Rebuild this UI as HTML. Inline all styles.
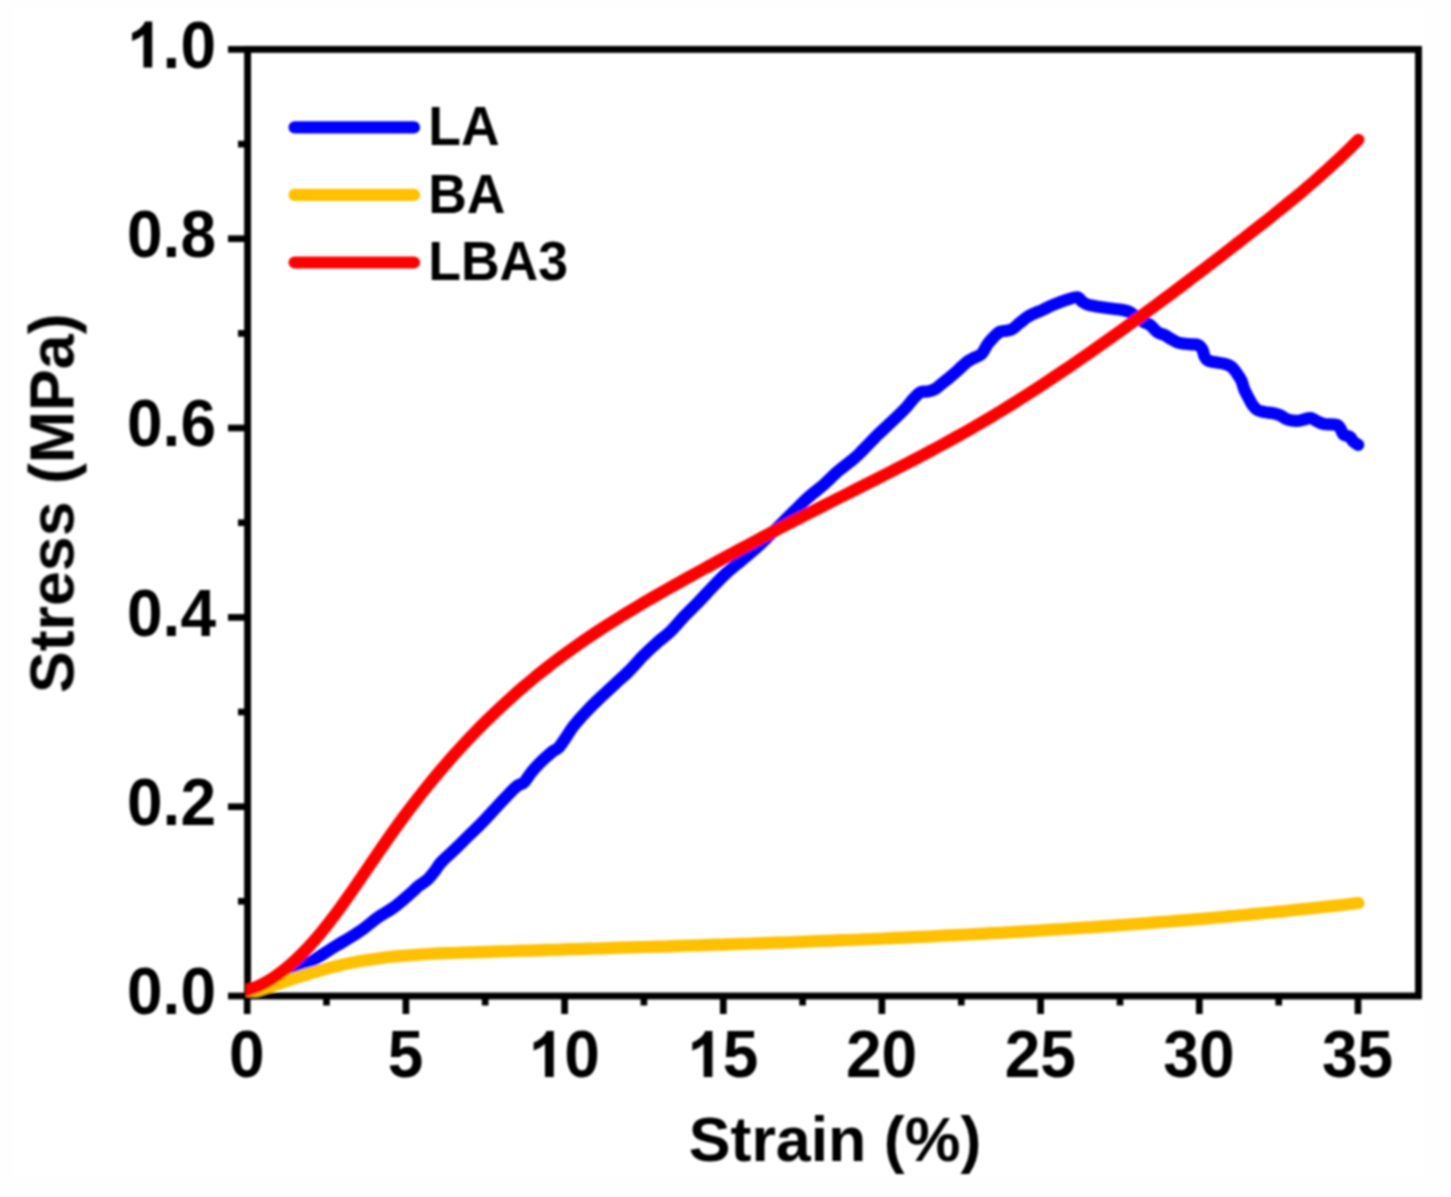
<!DOCTYPE html>
<html lang="en"><head><meta charset="utf-8"><title>Stress-Strain</title>
<style>html,body{margin:0;padding:0;background:#fefefe;width:1451px;height:1197px;overflow:hidden}svg{display:block;position:absolute;left:0;top:0}text{font-family:"Liberation Sans",sans-serif;font-weight:bold;fill:#000}.tk{font-size:64px}.ti{font-size:62.7px}.lg{font-size:53.5px}</style></head><body>
<svg width="1451" height="1197" viewBox="0 0 1451 1197">
<defs><clipPath id="cp"><rect x="246.0" y="49.4" width="1172.5" height="947.4"/></clipPath><filter id="bl" x="-2%" y="-2%" width="104%" height="104%"><feGaussianBlur stdDeviation="0.95"/></filter><filter id="bt" x="-2%" y="-2%" width="104%" height="104%"><feGaussianBlur stdDeviation="1.0"/></filter></defs>
<rect x="0" y="0" width="1451" height="1197" fill="#fefefe"/>
<rect x="14" y="8" width="1411" height="1169" fill="#ffffff"/>
<g filter="url(#bl)">
<rect x="247.6" y="49.4" width="1170.9" height="946.6" fill="none" stroke="#000" stroke-width="6.9"/>
<g stroke="#000" stroke-width="6.7" stroke-linecap="butt"><line x1="228" x2="247.6" y1="996.0" y2="996.0"/><line x1="238" x2="247.6" y1="901.3" y2="901.3"/><line x1="228" x2="247.6" y1="806.7" y2="806.7"/><line x1="238" x2="247.6" y1="712.0" y2="712.0"/><line x1="228" x2="247.6" y1="617.4" y2="617.4"/><line x1="238" x2="247.6" y1="522.7" y2="522.7"/><line x1="228" x2="247.6" y1="428.0" y2="428.0"/><line x1="238" x2="247.6" y1="333.4" y2="333.4"/><line x1="228" x2="247.6" y1="238.7" y2="238.7"/><line x1="238" x2="247.6" y1="144.1" y2="144.1"/><line x1="228" x2="247.6" y1="49.4" y2="49.4"/><line x1="247.2" x2="247.2" y1="996.0" y2="1014"/><line x1="326.5" x2="326.5" y1="996.0" y2="1005.5"/><line x1="405.9" x2="405.9" y1="996.0" y2="1014"/><line x1="485.2" x2="485.2" y1="996.0" y2="1005.5"/><line x1="564.6" x2="564.6" y1="996.0" y2="1014"/><line x1="643.9" x2="643.9" y1="996.0" y2="1005.5"/><line x1="723.3" x2="723.3" y1="996.0" y2="1014"/><line x1="802.6" x2="802.6" y1="996.0" y2="1005.5"/><line x1="881.9" x2="881.9" y1="996.0" y2="1014"/><line x1="961.3" x2="961.3" y1="996.0" y2="1005.5"/><line x1="1040.6" x2="1040.6" y1="996.0" y2="1014"/><line x1="1120.0" x2="1120.0" y1="996.0" y2="1005.5"/><line x1="1199.3" x2="1199.3" y1="996.0" y2="1014"/><line x1="1278.7" x2="1278.7" y1="996.0" y2="1005.5"/><line x1="1358.0" x2="1358.0" y1="996.0" y2="1014"/></g>
<g clip-path="url(#cp)" fill="none" stroke-width="12.2" stroke-linecap="round" stroke-linejoin="round">
<path stroke="#0000ff" d="M247.6 994.0 C249.7 993.2 255.4 991.1 260.0 989.1 C264.6 987.2 270.0 984.7 275.0 982.2 C280.0 979.8 284.4 977.5 290.0 974.4 C295.6 971.2 303.4 966.6 308.9 963.2 C314.3 959.9 318.1 957.3 322.7 954.4 C327.3 951.4 331.9 948.4 336.5 945.6 C341.1 942.8 345.7 940.3 350.3 937.4 C354.9 934.5 359.4 931.7 364.0 928.3 C368.6 925.0 373.2 920.7 377.8 917.5 C382.4 914.2 387.9 911.4 391.6 908.9 C395.3 906.4 397.7 904.3 400.0 902.5 C402.3 900.7 403.1 899.9 405.4 897.9 C407.7 895.9 411.5 892.6 413.8 890.5 C416.1 888.4 416.9 887.3 419.2 885.5 C421.5 883.7 425.1 881.8 427.6 879.5 C430.2 877.2 432.2 874.4 434.5 871.5 C436.8 868.6 438.0 865.7 441.4 862.0 C444.8 858.3 450.5 853.5 455.1 849.1 C459.7 844.7 464.3 840.0 468.9 835.5 C473.5 831.0 478.1 826.8 482.7 822.0 C487.3 817.3 491.9 812.0 496.5 807.1 C501.1 802.2 506.9 796.0 510.3 792.5 C513.8 788.9 514.9 787.7 517.2 786.0 C519.5 784.3 521.7 784.6 524.0 782.4 C526.3 780.3 528.6 775.9 530.9 773.0 C533.2 770.1 534.3 768.5 537.8 765.1 C541.2 761.6 548.1 755.1 551.6 752.2 C555.1 749.3 556.2 750.0 558.5 747.7 C560.8 745.3 562.9 741.8 565.4 738.2 C567.9 734.5 570.1 730.4 573.8 725.7 C577.5 721.1 583.0 715.0 587.6 710.2 C592.2 705.3 596.8 701.0 601.4 696.6 C606.0 692.3 610.5 688.1 615.1 683.9 C619.7 679.6 624.3 675.7 628.9 671.1 C633.5 666.5 638.1 661.0 642.7 656.3 C647.3 651.6 651.9 647.3 656.5 643.2 C661.1 639.0 665.7 636.1 670.3 631.7 C674.9 627.3 679.4 621.4 684.0 616.5 C688.6 611.7 692.8 607.8 697.8 602.7 C702.8 597.6 708.8 590.9 713.8 585.8 C718.8 580.7 723.0 576.3 727.6 572.1 C732.2 567.9 736.8 564.4 741.4 560.5 C746.0 556.6 750.5 553.0 755.1 548.9 C759.7 544.8 764.3 540.3 768.9 535.9 C773.5 531.5 778.1 527.0 782.7 522.5 C787.3 518.0 791.9 513.3 796.5 508.8 C801.1 504.3 805.7 499.7 810.3 495.7 C814.9 491.6 819.4 488.6 824.0 484.5 C828.6 480.5 833.2 475.4 837.8 471.4 C842.4 467.4 847.9 463.6 851.6 460.5 C855.3 457.4 856.1 456.9 860.0 453.0 C863.9 449.1 870.1 442.3 875.2 437.3 C880.3 432.3 885.3 427.8 890.4 422.9 C895.5 418.1 901.8 412.1 905.6 408.1 C909.4 404.1 910.7 401.6 913.2 399.0 C915.7 396.4 918.3 393.5 920.8 392.2 C923.3 390.9 925.9 392.0 928.4 391.4 C930.9 390.8 933.5 389.9 936.0 388.4 C938.5 386.9 941.1 384.3 943.6 382.3 C946.1 380.3 948.7 378.4 951.2 376.2 C953.7 374.0 956.3 371.7 958.8 369.4 C961.3 367.1 963.9 364.4 966.4 362.4 C968.9 360.5 971.5 359.3 974.0 357.9 C976.5 356.5 979.3 356.3 981.6 354.0 C983.9 351.7 985.7 346.8 987.7 344.0 C989.7 341.2 991.8 339.1 993.8 337.1 C995.8 335.0 997.9 332.7 999.9 331.7 C1001.9 330.7 1004.0 331.2 1006.0 330.8 C1008.0 330.4 1009.7 330.6 1012.0 329.3 C1014.3 328.0 1017.1 325.1 1019.6 323.1 C1022.1 321.1 1024.8 318.7 1027.3 317.0 C1029.8 315.4 1032.4 314.3 1034.9 313.2 C1037.4 312.0 1039.3 311.4 1042.5 310.0 C1045.7 308.5 1049.6 306.3 1053.8 304.6 C1058.0 302.8 1063.7 300.7 1067.6 299.5 C1071.5 298.3 1074.7 296.9 1077.2 297.3 C1079.7 297.7 1080.9 300.8 1082.7 302.0 C1084.5 303.2 1086.1 304.0 1088.2 304.7 C1090.3 305.4 1091.6 305.6 1095.1 306.2 C1098.5 306.8 1104.3 307.7 1108.9 308.3 C1113.5 308.9 1119.2 309.4 1122.7 310.0 C1126.2 310.6 1127.3 310.9 1129.6 312.0 C1131.9 313.1 1134.2 315.3 1136.5 316.9 C1138.8 318.5 1141.1 320.3 1143.4 321.7 C1145.7 323.1 1148.0 323.4 1150.3 325.1 C1152.6 326.8 1154.9 330.4 1157.2 332.0 C1159.5 333.6 1161.8 333.7 1164.1 334.8 C1166.4 335.9 1168.6 337.6 1170.9 338.9 C1173.2 340.2 1175.5 341.6 1177.8 342.4 C1180.1 343.2 1182.4 343.4 1184.7 343.7 C1187.0 344.0 1189.3 344.2 1191.6 344.4 C1193.9 344.6 1196.7 344.2 1198.5 345.1 C1200.3 346.0 1201.6 348.0 1202.6 349.9 C1203.6 351.8 1203.7 354.8 1204.5 356.5 C1205.3 358.2 1206.0 359.4 1207.5 360.3 C1209.0 361.2 1210.9 361.4 1213.8 362.0 C1216.7 362.6 1221.8 363.0 1224.8 363.8 C1227.8 364.6 1229.6 365.2 1231.7 366.9 C1233.8 368.6 1235.6 371.5 1237.2 373.8 C1238.8 376.1 1240.2 378.1 1241.4 380.6 C1242.6 383.1 1243.0 386.1 1244.1 388.9 C1245.2 391.7 1246.8 394.5 1248.2 397.2 C1249.6 399.9 1250.8 402.6 1252.4 404.8 C1254.0 407.0 1255.8 409.1 1257.9 410.3 C1260.0 411.5 1262.5 411.7 1264.8 412.1 C1267.1 412.6 1269.2 412.5 1271.7 413.0 C1274.2 413.5 1277.4 414.1 1279.9 415.1 C1282.4 416.1 1284.0 418.2 1286.8 419.2 C1289.6 420.2 1293.5 420.9 1296.5 420.9 C1299.5 420.9 1302.5 419.7 1304.8 419.2 C1307.1 418.7 1308.2 417.8 1310.3 418.1 C1312.4 418.5 1314.9 420.3 1317.2 421.3 C1319.5 422.3 1320.9 423.5 1324.1 424.1 C1327.3 424.7 1333.8 424.0 1336.5 424.8 C1339.2 425.6 1339.5 427.3 1340.6 428.9 C1341.7 430.5 1341.7 433.0 1343.3 434.4 C1344.9 435.8 1348.6 436.0 1350.2 437.2 C1351.8 438.4 1351.7 440.0 1353.0 441.3 C1354.3 442.6 1357.3 444.2 1358.2 444.8"/>
<path stroke="#ffc000" d="M247.6 993.6 C249.6 993.0 255.6 991.1 259.6 989.8 C263.6 988.5 267.6 987.2 271.6 985.9 C275.6 984.6 279.6 983.2 283.6 981.9 C287.6 980.6 291.6 979.3 295.6 978.0 C299.6 976.7 303.6 975.4 307.6 974.1 C311.6 972.9 315.6 971.7 319.6 970.6 C323.6 969.4 327.6 968.3 331.6 967.3 C335.6 966.3 339.6 965.3 343.6 964.4 C347.6 963.5 351.6 962.7 355.6 962.0 C359.6 961.2 363.6 960.6 367.6 959.9 C371.6 959.3 375.6 958.7 379.6 958.2 C383.6 957.7 387.6 957.2 391.6 956.8 C395.6 956.4 399.6 956.0 403.6 955.7 C407.6 955.3 411.6 955.0 415.6 954.8 C419.6 954.5 423.6 954.2 427.6 954.0 C431.6 953.8 435.6 953.6 439.6 953.4 C443.6 953.3 447.6 953.1 451.6 953.0 C455.6 952.8 459.6 952.7 463.6 952.5 C467.6 952.4 471.6 952.3 475.6 952.2 C479.6 952.0 483.6 951.9 487.6 951.8 C491.6 951.7 495.6 951.5 499.6 951.4 C503.6 951.3 507.6 951.2 511.6 951.0 C515.6 950.9 519.6 950.8 523.6 950.7 C527.6 950.5 531.6 950.4 535.6 950.3 C539.6 950.2 543.6 950.1 547.6 949.9 C551.6 949.8 555.6 949.7 559.6 949.6 C563.6 949.4 567.6 949.3 571.6 949.2 C575.6 949.1 579.6 949.0 583.6 948.8 C587.6 948.7 591.6 948.6 595.6 948.5 C599.6 948.4 603.6 948.2 607.6 948.1 C611.6 948.0 615.6 947.9 619.6 947.7 C623.6 947.6 627.6 947.5 631.6 947.4 C635.6 947.3 639.6 947.1 643.6 947.0 C647.6 946.9 651.6 946.8 655.6 946.6 C659.6 946.5 663.6 946.4 667.6 946.3 C671.6 946.1 675.6 946.0 679.6 945.9 C683.6 945.8 687.6 945.6 691.6 945.5 C695.6 945.4 699.6 945.3 703.6 945.1 C707.6 945.0 711.6 944.9 715.6 944.7 C719.6 944.6 723.6 944.5 727.6 944.3 C731.6 944.2 735.6 944.1 739.6 943.9 C743.6 943.8 747.6 943.7 751.6 943.5 C755.6 943.4 759.6 943.3 763.6 943.1 C767.6 943.0 771.6 942.8 775.6 942.7 C779.6 942.5 783.6 942.4 787.6 942.3 C791.6 942.1 795.6 942.0 799.6 941.8 C803.6 941.7 807.6 941.5 811.6 941.4 C815.6 941.2 819.6 941.1 823.6 940.9 C827.6 940.8 831.6 940.6 835.6 940.4 C839.6 940.3 843.6 940.1 847.6 940.0 C851.6 939.8 855.6 939.6 859.6 939.5 C863.6 939.3 867.6 939.1 871.6 939.0 C875.6 938.8 879.6 938.6 883.6 938.5 C887.6 938.3 891.6 938.1 895.6 937.9 C899.6 937.8 903.6 937.6 907.6 937.4 C911.6 937.2 915.6 937.0 919.6 936.8 C923.6 936.7 927.6 936.5 931.6 936.3 C935.6 936.1 939.6 935.9 943.6 935.7 C947.6 935.5 951.6 935.3 955.6 935.1 C959.6 934.9 963.6 934.7 967.6 934.5 C971.6 934.3 975.6 934.1 979.6 933.9 C983.6 933.7 987.6 933.4 991.6 933.2 C995.6 933.0 999.6 932.8 1003.6 932.6 C1007.6 932.3 1011.6 932.1 1015.6 931.9 C1019.6 931.7 1023.6 931.4 1027.6 931.2 C1031.6 931.0 1035.6 930.7 1039.6 930.5 C1043.6 930.2 1047.6 930.0 1051.6 929.7 C1055.6 929.5 1059.6 929.2 1063.6 929.0 C1067.6 928.7 1071.6 928.5 1075.6 928.2 C1079.6 928.0 1083.6 927.7 1087.6 927.4 C1091.6 927.2 1095.6 926.9 1099.6 926.6 C1103.6 926.3 1107.6 926.1 1111.6 925.8 C1115.6 925.5 1119.6 925.2 1123.6 924.9 C1127.6 924.6 1131.6 924.3 1135.6 924.0 C1139.6 923.7 1143.6 923.4 1147.6 923.1 C1151.6 922.8 1155.6 922.5 1159.6 922.2 C1163.6 921.9 1167.6 921.6 1171.6 921.3 C1175.6 920.9 1179.6 920.6 1183.6 920.3 C1187.6 920.0 1191.6 919.6 1195.6 919.3 C1199.6 919.0 1203.6 918.6 1207.6 918.3 C1211.6 917.9 1215.6 917.6 1219.6 917.2 C1223.6 916.9 1227.6 916.5 1231.6 916.1 C1235.6 915.8 1239.6 915.4 1243.6 915.0 C1247.6 914.7 1251.6 914.3 1255.6 913.9 C1259.6 913.5 1263.6 913.1 1267.6 912.7 C1271.6 912.4 1275.6 912.0 1279.6 911.6 C1283.6 911.2 1287.6 910.7 1291.6 910.3 C1295.6 909.9 1299.6 909.5 1303.6 909.1 C1307.6 908.7 1311.6 908.2 1315.6 907.8 C1319.6 907.4 1323.6 907.0 1327.6 906.5 C1331.6 906.1 1335.6 905.6 1339.6 905.2 C1343.6 904.7 1348.5 904.2 1351.6 903.8 C1354.7 903.4 1357.3 903.1 1358.4 903.0"/>
<path stroke="#ff0000" d="M247.6 990.1 C249.6 989.4 255.6 987.3 259.6 985.4 C263.6 983.5 267.6 981.3 271.6 978.8 C275.6 976.2 279.6 973.4 283.6 970.2 C287.6 967.1 291.6 963.7 295.6 959.9 C299.6 956.2 303.6 952.2 307.6 948.0 C311.6 943.7 315.6 939.2 319.6 934.4 C323.6 929.6 327.6 924.5 331.6 919.3 C335.6 914.1 339.6 908.6 343.6 903.0 C347.6 897.4 351.6 891.7 355.6 885.9 C359.6 880.1 363.6 874.2 367.6 868.4 C371.6 862.5 375.6 856.6 379.6 850.8 C383.6 845.0 387.6 839.2 391.6 833.6 C395.6 827.9 399.6 822.4 403.6 817.0 C407.6 811.6 411.6 806.3 415.6 801.2 C419.6 796.0 423.6 790.9 427.6 786.0 C431.6 781.1 435.6 776.2 439.6 771.5 C443.6 766.8 447.6 762.2 451.6 757.6 C455.6 753.1 459.6 748.7 463.6 744.4 C467.6 740.1 471.6 735.9 475.6 731.8 C479.6 727.6 483.6 723.6 487.6 719.7 C491.6 715.8 495.6 711.9 499.6 708.2 C503.6 704.4 507.6 700.8 511.6 697.2 C515.6 693.6 519.6 690.1 523.6 686.7 C527.6 683.3 531.6 679.9 535.6 676.6 C539.6 673.4 543.6 670.2 547.6 667.1 C551.6 664.0 555.6 660.9 559.6 657.9 C563.6 654.9 567.6 652.0 571.6 649.2 C575.6 646.3 579.6 643.5 583.6 640.7 C587.6 638.0 591.6 635.3 595.6 632.6 C599.6 630.0 603.6 627.4 607.6 624.8 C611.6 622.3 615.6 619.8 619.6 617.3 C623.6 614.8 627.6 612.4 631.6 610.0 C635.6 607.6 639.6 605.2 643.6 602.8 C647.6 600.5 651.6 598.2 655.6 595.9 C659.6 593.6 663.6 591.3 667.6 589.0 C671.6 586.8 675.6 584.5 679.6 582.3 C683.6 580.1 687.6 577.8 691.6 575.6 C695.6 573.4 699.6 571.2 703.6 569.0 C707.6 566.8 711.6 564.6 715.6 562.5 C719.6 560.3 723.6 558.1 727.6 556.0 C731.6 553.8 735.6 551.6 739.6 549.5 C743.6 547.4 747.6 545.2 751.6 543.1 C755.6 541.0 759.6 538.9 763.6 536.7 C767.6 534.6 771.6 532.5 775.6 530.4 C779.6 528.4 783.6 526.3 787.6 524.2 C791.6 522.1 795.6 520.0 799.6 518.0 C803.6 515.9 807.6 513.9 811.6 511.8 C815.6 509.8 819.6 507.7 823.6 505.7 C827.6 503.7 831.6 501.6 835.6 499.6 C839.6 497.6 843.6 495.6 847.6 493.6 C851.6 491.6 855.6 489.5 859.6 487.5 C863.6 485.5 867.6 483.5 871.6 481.5 C875.6 479.5 879.6 477.4 883.6 475.4 C887.6 473.4 891.6 471.3 895.6 469.3 C899.6 467.2 903.6 465.2 907.6 463.1 C911.6 461.0 915.6 459.0 919.6 456.9 C923.6 454.8 927.6 452.6 931.6 450.5 C935.6 448.4 939.6 446.2 943.6 444.0 C947.6 441.9 951.6 439.7 955.6 437.4 C959.6 435.2 963.6 433.0 967.6 430.7 C971.6 428.4 975.6 426.1 979.6 423.8 C983.6 421.4 987.6 419.1 991.6 416.7 C995.6 414.3 999.6 411.9 1003.6 409.4 C1007.6 406.9 1011.6 404.5 1015.6 402.0 C1019.6 399.4 1023.6 396.9 1027.6 394.3 C1031.6 391.8 1035.6 389.2 1039.6 386.6 C1043.6 384.0 1047.6 381.3 1051.6 378.7 C1055.6 376.0 1059.6 373.3 1063.6 370.6 C1067.6 367.9 1071.6 365.2 1075.6 362.4 C1079.6 359.7 1083.6 356.9 1087.6 354.2 C1091.6 351.4 1095.6 348.6 1099.6 345.8 C1103.6 342.9 1107.6 340.1 1111.6 337.2 C1115.6 334.4 1119.6 331.5 1123.6 328.7 C1127.6 325.8 1131.6 322.9 1135.6 320.0 C1139.6 317.1 1143.6 314.1 1147.6 311.2 C1151.6 308.3 1155.6 305.3 1159.6 302.4 C1163.6 299.4 1167.6 296.4 1171.6 293.5 C1175.6 290.5 1179.6 287.5 1183.6 284.5 C1187.6 281.5 1191.6 278.4 1195.6 275.4 C1199.6 272.4 1203.6 269.3 1207.6 266.3 C1211.6 263.2 1215.6 260.1 1219.6 257.1 C1223.6 254.0 1227.6 250.9 1231.6 247.8 C1235.6 244.7 1239.6 241.6 1243.6 238.5 C1247.6 235.4 1251.6 232.3 1255.6 229.1 C1259.6 226.0 1263.6 222.8 1267.6 219.7 C1271.6 216.5 1275.6 213.3 1279.6 210.1 C1283.6 206.9 1287.6 203.6 1291.6 200.3 C1295.6 197.0 1299.6 193.7 1303.6 190.3 C1307.6 186.9 1311.6 183.5 1315.6 180.0 C1319.6 176.5 1323.6 172.9 1327.6 169.3 C1331.6 165.6 1335.6 161.9 1339.6 158.2 C1343.6 154.4 1348.5 149.6 1351.6 146.6 C1354.7 143.5 1357.3 140.9 1358.4 139.8"/>
</g>
<g fill="none" stroke-width="12.2" stroke-linecap="round"><line stroke="#0000ff" x1="294.6" x2="414" y1="127.4" y2="127.4"/><line stroke="#ffc000" x1="294.6" x2="414" y1="194.9" y2="194.9"/><line stroke="#ff0000" x1="294.6" x2="414" y1="262.5" y2="262.5"/></g>
</g><g filter="url(#bt)">
<text class="lg" transform="translate(428.2 145.1) scale(1 1.040)">LA</text>
<text class="lg" transform="translate(428.2 212.5) scale(1 1.040)">BA</text>
<text class="lg" transform="translate(428.2 280.1) scale(1 1.040)">LBA3</text>
<text class="tk" transform="translate(127.03 1014.1) scale(1 1.040)">0.0</text>
<text class="tk" transform="translate(127.03 824.8) scale(1 1.040)">0.2</text>
<text class="tk" transform="translate(127.03 635.5) scale(1 1.040)">0.4</text>
<text class="tk" transform="translate(127.03 446.1) scale(1 1.040)">0.6</text>
<text class="tk" transform="translate(127.03 256.8) scale(1 1.040)">0.8</text>
<path d="M806 0H525V1059Q371 915 162 846V1101Q272 1137 401 1237.5Q530 1338 578 1472H806Z" transform="translate(127.03 67.5) scale(0.03125 -0.03125)"/><text class="tk" transform="translate(162.62 67.5) scale(1 1.040)">.0</text>
<text class="tk" transform="translate(229.00 1077.0) scale(1 1.040)">0</text>
<text class="tk" transform="translate(387.69 1077.0) scale(1 1.040)">5</text>
<path d="M806 0H525V1059Q371 915 162 846V1101Q272 1137 401 1237.5Q530 1338 578 1472H806Z" transform="translate(528.58 1077.0) scale(0.03125 -0.03125)"/><text class="tk" transform="translate(564.17 1077.0) scale(1 1.040)">0</text>
<path d="M806 0H525V1059Q371 915 162 846V1101Q272 1137 401 1237.5Q530 1338 578 1472H806Z" transform="translate(687.26 1077.0) scale(0.03125 -0.03125)"/><text class="tk" transform="translate(722.86 1077.0) scale(1 1.040)">5</text>
<text class="tk" transform="translate(845.95 1077.0) scale(1 1.040)">20</text>
<text class="tk" transform="translate(1004.63 1077.0) scale(1 1.040)">25</text>
<text class="tk" transform="translate(1163.32 1077.0) scale(1 1.040)">30</text>
<text class="tk" transform="translate(1322.01 1077.0) scale(1 1.040)">35</text>
<text class="ti" text-anchor="middle" x="835" y="1160.6">Strain (%)</text>
<text class="ti" text-anchor="middle" transform="translate(73.5 503.3) rotate(-90)">Stress (MPa)</text>
</g>
</svg></body></html>
